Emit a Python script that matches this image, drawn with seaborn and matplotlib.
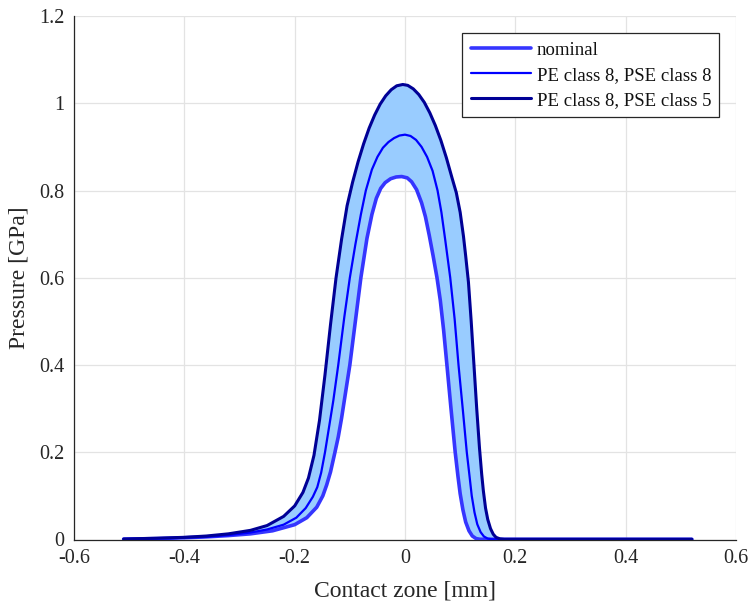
import matplotlib
matplotlib.use("Agg")
import matplotlib.pyplot as plt
import seaborn as sns
import pandas as pd

# ---- data ----
labels = ["nominal", "PE class 8, PSE class 8", "PE class 8, PSE class 5"]

x_nom = [-0.51, -0.45, -0.40, -0.36, -0.32, -0.28, -0.24, -0.20, -0.178, -0.160, -0.149,
         -0.142, -0.135, -0.127, -0.121, -0.115, -0.108, -0.100, -0.090, -0.080, -0.069,
         -0.060, -0.052, -0.044, -0.036, -0.026, -0.016, -0.006, 0.004, 0.012,
         0.021, 0.030, 0.037, 0.044, 0.051, 0.058, 0.064, 0.070, 0.076, 0.083, 0.091,
         0.096, 0.100, 0.105, 0.110, 0.116, 0.122, 0.129, 0.136, 0.52]
p_nom = [0.001, 0.002, 0.004, 0.006, 0.009, 0.013, 0.020, 0.034, 0.050, 0.074, 0.100,
         0.125, 0.155, 0.200, 0.235, 0.278, 0.335, 0.400, 0.500, 0.600, 0.690,
         0.745, 0.782, 0.805, 0.818, 0.827, 0.831, 0.832, 0.829, 0.820,
         0.802, 0.772, 0.740, 0.697, 0.650, 0.600, 0.548, 0.480, 0.400, 0.305, 0.200,
         0.145, 0.105, 0.068, 0.040, 0.020, 0.008, 0.002, 0.0005, 0.0005]

x_mid = [-0.51, -0.45, -0.40, -0.36, -0.32, -0.28, -0.25, -0.22, -0.197, -0.180, -0.167,
         -0.159, -0.152, -0.145, -0.138, -0.130, -0.121, -0.110, -0.100, -0.090, -0.080,
         -0.071, -0.060, -0.050, -0.040, -0.030, -0.020, -0.010, 0.000, 0.010, 0.020,
         0.030, 0.040, 0.050, 0.059, 0.066, 0.073, 0.082, 0.090, 0.097, 0.105, 0.112,
         0.117, 0.121, 0.126, 0.131, 0.137, 0.143, 0.150, 0.158, 0.52]
p_mid = [0.001, 0.002, 0.004, 0.006, 0.010, 0.016, 0.023, 0.034, 0.050, 0.072, 0.098,
         0.120, 0.153, 0.200, 0.255, 0.318, 0.400, 0.510, 0.600, 0.676, 0.745,
         0.800, 0.848, 0.877, 0.898, 0.911, 0.920, 0.926, 0.928, 0.925, 0.916,
         0.900, 0.877, 0.845, 0.800, 0.750, 0.686, 0.600, 0.505, 0.400, 0.295, 0.200,
         0.145, 0.100, 0.062, 0.035, 0.017, 0.007, 0.002, 0.0005, 0.0005]

x_top = [-0.51, -0.45, -0.40, -0.36, -0.32, -0.28, -0.25, -0.22, -0.20, -0.185, -0.175,
         -0.165, -0.155, -0.145, -0.135, -0.125, -0.115, -0.105, -0.095, -0.085, -0.075,
         -0.065, -0.055, -0.045, -0.035, -0.025, -0.015, -0.004, 0.005, 0.015, 0.025,
         0.035, 0.045, 0.055, 0.065, 0.075, 0.085, 0.093, 0.100, 0.106, 0.110, 0.115,
         0.120, 0.125, 0.130, 0.135, 0.139, 0.142, 0.146, 0.150, 0.155, 0.160, 0.165,
         0.172, 0.180, 0.52]
p_top = [0.001, 0.003, 0.005, 0.008, 0.013, 0.021, 0.032, 0.053, 0.077, 0.108, 0.141,
         0.193, 0.273, 0.378, 0.493, 0.600, 0.688, 0.765, 0.819, 0.866, 0.907,
         0.943, 0.973, 0.998, 1.017, 1.031, 1.040, 1.043, 1.041, 1.033, 1.020,
         1.002, 0.978, 0.949, 0.915, 0.875, 0.830, 0.795, 0.750, 0.695, 0.650, 0.590,
         0.500, 0.400, 0.300, 0.210, 0.150, 0.112, 0.072, 0.046, 0.025, 0.012, 0.005,
         0.0015, 0.0005, 0.0005]

x_ticks = [-0.6, -0.4, -0.2, 0, 0.2, 0.4, 0.6]
x_ticklabels = ["-0.6", "-0.4", "-0.2", "0", "0.2", "0.4", "0.6"]
y_ticks = [0, 0.2, 0.4, 0.6, 0.8, 1.0, 1.2]
y_ticklabels = ["0", "0.2", "0.4", "0.6", "0.8", "1", "1.2"]

# ---- style ----
sns.set_style("white")
plt.rcParams["font.family"] = ["Liberation Serif", "DejaVu Serif"]

c_nom = "#3535FF"
c_mid = "#0000FF"
c_top = "#000096"
c_fill = "#99CCFF"

fig = plt.figure(figsize=(7.49, 6.02), dpi=100)
ax = fig.add_axes([74 / 749, 1 - 539.5 / 602, (736 - 74) / 749, (539.5 - 16) / 602])

# shaded band between nominal and worst-case
poly_x = x_top + x_nom[::-1]
poly_y = p_top + p_nom[::-1]
ax.fill(poly_x, poly_y, color=c_fill, lw=0, zorder=1)

df_nom = pd.DataFrame({"x": x_nom, "p": p_nom})
df_mid = pd.DataFrame({"x": x_mid, "p": p_mid})
df_top = pd.DataFrame({"x": x_top, "p": p_top})

kw = dict(estimator=None, sort=False, zorder=3, solid_joinstyle="round", solid_capstyle="round")
sns.lineplot(data=df_nom, x="x", y="p", ax=ax, color=c_nom, lw=2.6, label=labels[0], **kw)
sns.lineplot(data=df_mid, x="x", y="p", ax=ax, color=c_mid, lw=1.6, label=labels[1], **kw)
sns.lineplot(data=df_top, x="x", y="p", ax=ax, color=c_top, lw=2.2, label=labels[2], **kw)

ax.set_xlim(-0.6, 0.6)
ax.set_ylim(0, 1.2)
ax.set_xticks(x_ticks)
ax.set_xticklabels(x_ticklabels)
ax.set_yticks(y_ticks)
ax.set_yticklabels(y_ticklabels)

ax.grid(True, color="#E3E3E3", lw=0.9, zorder=0)
ax.set_axisbelow(True)

for s in ["top", "right"]:
    ax.spines[s].set_visible(False)
for s in ["left", "bottom"]:
    ax.spines[s].set_color("#262626")
    ax.spines[s].set_linewidth(0.9)

ax.tick_params(axis="both", direction="in", length=5, width=0.9, color="#555555",
               labelsize=14.5, labelcolor="#262626", pad=7)

ax.set_xlabel("Contact zone [mm]", fontsize=17, color="#262626", labelpad=9)
ax.set_ylabel("Pressure [GPa]", fontsize=17, color="#262626", labelpad=7)

leg = ax.legend(loc="upper right", bbox_to_anchor=(0.975, 0.967), fontsize=13.5,
                frameon=True, fancybox=False, framealpha=1, edgecolor="#262626",
                handlelength=3.2, handletextpad=0.3, borderpad=0.45, labelspacing=0.42,
                borderaxespad=0.0)
leg.get_frame().set_linewidth(0.9)
for t in leg.get_texts():
    t.set_color("#111111")

fig.savefig("out.png", dpi=100)
